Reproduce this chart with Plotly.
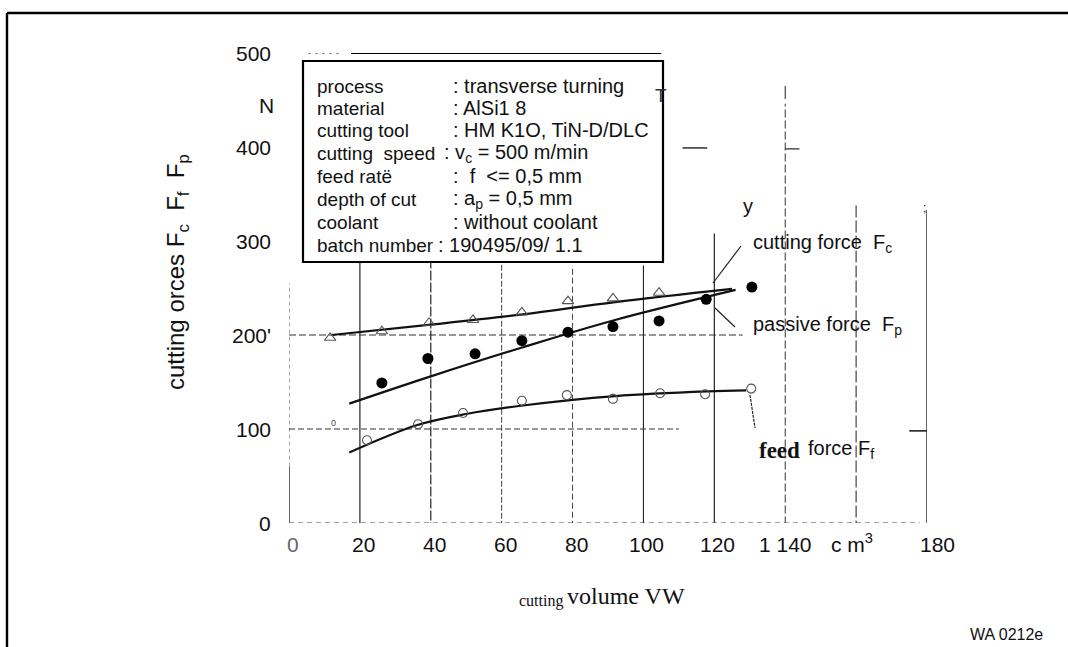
import plotly.graph_objects as go

# ---- measured values -------------------------------------------------------
# cutting force Fc (open triangles)
vol_fc = [11.6, 26.2, 39.5, 51.9, 65.7, 78.7, 91.4, 104.4]
force_fc = [197, 204, 213, 216, 224, 236, 239, 245]
# passive force Fp (filled circles)
vol_fp = [26.2, 39.2, 52.5, 65.7, 78.7, 91.4, 104.4, 117.7, 130.6]
force_fp = [149, 175, 180, 194, 203, 209, 215, 238, 251]
# feed force Ff (open circles)
vol_ff = [22.0, 36.4, 49.1, 65.7, 78.4, 91.4, 104.7, 117.4, 130.4]
force_ff = [88, 105, 117, 130, 136, 132, 138, 137, 143]

# hand-drawn trend curves
trend_fc_x = [12, 40, 66, 92, 125]
trend_fc_y = [200, 211, 222, 235, 249]
trend_fp_x = [17, 40, 66, 92, 126]
trend_fp_y = [127, 156, 187, 216, 248]
trend_ff_x = [17, 36, 50, 66, 92, 118, 129]
trend_ff_y = [75, 104, 116, 125, 135, 140, 141]

# axis tick labels
x_tick_vals = [0, 20, 40, 60, 80, 100, 120, 140, 180]
x_tick_text = ["0", "20", "40", "60", "80", "100", "120", "1 140", "180"]
y_tick_vals = [0, 100, 200, 300, 400, 500]
y_tick_text = ["0", "100", "200'", "300", "400", "500"]

# test conditions
cond_names = ["process", "material", "cutting tool", "cutting  speed", "feed ratë",
              "depth of cut", "coolant", "batch number"]
cond_values = [": transverse turning", ": AlSi1 8", ": HM K1O, TiN-D/DLC",
               ": v<sub>c</sub> = 500 m/min", ":  f  &lt;= 0,5 mm",
               ": a<sub>p</sub> = 0,5 mm", ": without coolant", ": 190495/09/ 1.1"]

# ---- page geometry (pixels) -------------------------------------------------
W, H = 1068, 647
L, R, T, B = 289, 927, 53, 523   # plot area edges


def px(xp):
    return (xp - L) / (R - L)


def py(yp):
    return (B - yp) / (B - T)


def vx(v):
    return px(L + v * (R - L) / 180)


SANS = "Liberation Sans, Arial, sans-serif"
SERIF = "Liberation Serif, Times New Roman, serif"
INK = "#111111"

fig = go.Figure()

# trend curves
for xs, ys in [(trend_fc_x, trend_fc_y), (trend_fp_x, trend_fp_y), (trend_ff_x, trend_ff_y)]:
    fig.add_trace(go.Scatter(x=xs, y=ys, mode="lines", line=dict(color=INK, width=2.2, shape="spline"),
                             hoverinfo="skip", showlegend=False))

fig.add_trace(go.Scatter(x=vol_fc, y=force_fc, mode="markers", showlegend=False,
                         marker=dict(symbol="triangle-up-open", size=10, color="#555",
                                     line=dict(width=1.1))))
fig.add_trace(go.Scatter(x=vol_ff, y=force_ff, mode="markers", showlegend=False,
                         marker=dict(symbol="circle-open", size=9, color="#555",
                                     line=dict(width=1.1))))
fig.add_trace(go.Scatter(x=vol_fp, y=force_fp, mode="markers", showlegend=False,
                         marker=dict(symbol="circle", size=11, color="#000")))

shapes = []


def seg(x0, y0, x1, y1, width=1, dash="solid", color="#222", xref="x", yref="y"):
    shapes.append(dict(type="line", x0=x0, y0=y0, x1=x1, y1=y1, xref=xref, yref=yref,
                       line=dict(color=color, width=width, dash=dash), layer="below"))


# vertical grid lines
seg(0, 0, 0, 60, width=1.4)
seg(0, 60, 0, 255, width=1, dash="4px,3px", color="#555")
seg(20, -6, 20, 278, width=1.2)
seg(40, -10, 40, 278, width=1.2, dash="10px,2px")
seg(60, -4, 60, 276, width=1, dash="6px,2px", color="#444")
seg(80, -4, 80, 274, width=1, dash="6px,3px", color="#444")
seg(100, -4, 100, 274, width=1.1)
seg(120, -4, 120, 308, width=1.2)
seg(140, -25, 140, 446, width=1, dash="8px,3px", color="#333")
seg(160, -10, 160, 341, width=1.1, dash="12px,3px", color="#333")
seg(180, -25, 180, 333, width=1.4)

# horizontal grid lines
seg(0, 0, 178, 0, width=1, dash="5px,4px", color="#444")
seg(0, 100, 110, 100, width=1.1, dash="6px,3px", color="#333")
seg(175, 98, 180, 98, width=1.6)
seg(0, 200, 128, 200, width=1.1, dash="7px,3px", color="#333")
seg(17.5, 500, 105, 500, width=2.2, color="#000")
seg(5.5, 500, 15, 500, width=1.4, dash="2px,5px", color="#333")
seg(111, 399, 118, 399, width=1.4)
seg(140, 451, 140, 465, width=1)
seg(140, 398, 144, 398, width=1.2)
seg(200, 398, 206, 398, width=1.2, dash="2px,2px")

# outer frame (page border)
seg(px(7), py(13), px(1068), py(13), width=2.4, color="#000", xref="paper", yref="paper")
seg(px(7), py(13), px(7), py(647), width=2.4, color="#000", xref="paper", yref="paper")

# leader lines for the curve labels
seg(px(741), py(246), px(713), py(283), width=1.2, xref="paper", yref="paper")
seg(px(715), py(308), px(735), py(327), width=1.2, xref="paper", yref="paper")
seg(px(750), py(395), px(755), py(428), width=1.2, dash="3px,1px", xref="paper", yref="paper")

# conditions box (drawn on top of the grid)
shapes.append(dict(type="rect", xref="paper", yref="paper", x0=px(303), y0=py(61), x1=px(663),
                   y1=py(262), line=dict(color="#000", width=2.2), fillcolor="white", layer="above"))

annotations = []


def text(x, y, s, size=18, font=SANS, xanchor="center", xref="paper", yref="paper",
         textangle=0, color="#111"):
    annotations.append(dict(x=x, y=y, text=s, xref=xref, yref=yref, showarrow=False,
                            xanchor=xanchor, yanchor="middle", textangle=textangle,
                            font=dict(family=font, size=size, color=color)))


# tick labels
x_label_shift = {0: 1, 140: 0, 180: 3}
for v, s in zip(x_tick_vals, x_tick_text):
    text(vx(v + x_label_shift.get(v, 1)), py(544), s, size=21,
         color="#666" if v == 0 else "#111")
text(px(852), py(543), "c m<sup>3</sup>", size=21)
for v, s in zip(y_tick_vals, y_tick_text):
    text(px(273), v, s, size=21, xanchor="right", yref="y")
text(px(266), py(105), "N", size=21)

# axis titles
text(px(177), py(272), "cutting orces F<sub>c</sub>  F<sub>f</sub>  F<sub>p</sub>", size=24,
     textangle=-90)
text(px(541), py(601), "cutting", size=16, font=SERIF)
text(px(626), py(596), "volume VW", size=24, font=SERIF)
text(px(1006), py(634), "WA 0212e", size=16)

# curve labels
text(px(751), py(243), "cutting force  F<sub>c</sub>", size=20, xanchor="left")
text(px(751), py(325), "passive force  F<sub>p</sub>", size=20, xanchor="left")
text(px(757), py(450), "<b>feed</b>", size=23, font=SERIF, xanchor="left")
text(px(806), py(449), "force F<sub>f</sub>", size=20, xanchor="left")
text(px(748), py(206), "y", size=20)
text(px(924), py(208), ";", size=12)
text(px(661), py(95), "T", size=19, color="#333")
text(px(333), py(423), "0", size=9, color="#444")

# condition lines inside the box
row_y = [86, 108, 130, 153, 176, 199, 222, 245]
value_x = [451, 451, 451, 442, 451, 451, 451, 436]
for name, value, yy, xx in zip(cond_names, cond_values, row_y, value_x):
    text(px(315), py(yy), name, size=19, xanchor="left")
    text(px(xx), py(yy), value, size=20, xanchor="left")

fig.update_layout(
    width=W, height=H,
    margin=dict(l=L, r=W - R, t=T, b=H - B),
    paper_bgcolor="white", plot_bgcolor="white",
    xaxis=dict(range=[0, 180], visible=False),
    yaxis=dict(range=[0, 500], visible=False),
    shapes=shapes, annotations=annotations,
    showlegend=False,
)

fig.write_html("out.html")
